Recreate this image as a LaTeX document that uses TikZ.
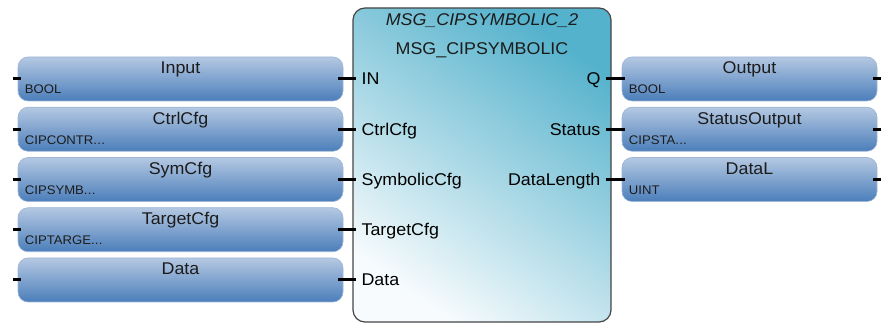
\documentclass[tikz,border=0pt]{standalone}
\usepackage{fontspec}
\setmainfont{Liberation Sans}[FakeStretch=1.05]
\usetikzlibrary{calc}
\definecolor{vtop}{HTML}{B4C8E2}
\definecolor{vbot}{HTML}{4B7EBA}
\definecolor{vedge}{HTML}{9DB5D6}
\definecolor{btop}{HTML}{55B2CC}
\definecolor{bbot}{HTML}{F7FBFD}
\definecolor{bedge}{HTML}{454545}
\definecolor{txt}{HTML}{1C1C1C}
\newcommand\tdots{.\kern0.3pt.\kern0.3pt.}
\tikzset{
  varbox/.style={rounded corners=10pt, top color=vtop, bottom color=vbot, draw=vedge, line width=0.6pt, minimum height=44pt, inner sep=0pt},
  lvar/.style={varbox, minimum width=325pt},
  rvar/.style={varbox, minimum width=255pt},
  fblock/.style={rounded corners=12pt, top color=btop, bottom color=bbot, shading angle=-35, draw=bedge, line width=1.2pt, minimum width=258pt, minimum height=314pt, inner sep=0pt},
  pinline/.style={line width=3pt, black},
  nm/.style={font=\fontsize{17}{17}\selectfont, text=txt, inner sep=0pt},
  ty/.style={font=\fontsize{12.5}{13}\selectfont, text=txt, inner sep=0pt},
  pl/.style={font=\fontsize{17}{17}\selectfont, text=black, inner sep=0pt},
}
\begin{document}
\begin{tikzpicture}[x=1pt,y=1pt]
\useasboundingbox (0,0) rectangle (881,326);
% function block
\node[fblock] (fb) at (482,161) {};
\node[nm, anchor=base, font=\fontsize{17}{17}\selectfont\itshape] (inst) at (482,300) {MSG\_CIPSYMBOLIC\_2};
\node[nm, anchor=base] (typ) at (482,271) {MSG\_CIPSYMBOLIC};
% left variables
\foreach \i/\nam/\typ/\pin [count=\k from 0] in {in1/Input/BOOL/IN, in2/CtrlCfg/CIPCONTR\tdots/CtrlCfg, in3/SymCfg/CIPSYMB\tdots/SymbolicCfg, in4/TargetCfg/CIPTARGE\tdots/TargetCfg, in5/Data//Data}{
  \pgfmathsetmacro{\yy}{247-50.25*\k}
  \node[lvar] (\i) at (180.5,\yy) {};
  \node[nm, anchor=base] (\i n) at ($(\i.center)+(0,5)$) {\nam};
  \node[ty, anchor=base west] (\i t) at ($(\i.west)+(7,-15)$) {\typ};
  \node[pl, anchor=base west] (\i p) at ($(fb.west |- \i.center)+(9,-6)$) {\pin};
  \draw[pinline] ([xshift=-5pt]\i.west) -- ([xshift=3pt]\i.west);
  \draw[pinline] ([xshift=-5pt]\i.east) -- ([xshift=4pt]fb.west |- \i.center);
}
% right variables
\foreach \i/\nam/\typ/\pin [count=\k from 0] in {out1/Output/BOOL/Q, out2/StatusOutput/CIPSTA\tdots/Status, out3/DataL/UINT/DataLength}{
  \pgfmathsetmacro{\yy}{247-50.25*\k}
  \node[rvar] (\i) at (749.5,\yy) {};
  \node[nm, anchor=base] (\i n) at ($(\i.center)+(0,5)$) {\nam};
  \node[ty, anchor=base west] (\i t) at ($(\i.west)+(7,-15)$) {\typ};
  \node[pl, anchor=base east] (\i p) at ($(fb.east |- \i.center)+(-11,-6)$) {\pin};
  \draw[pinline] ([xshift=-6pt]fb.east |- \i.center) -- ([xshift=3pt]\i.west);
  \coordinate (\i e) at ([xshift=4pt]\i.east);
  \draw[pinline] ([xshift=-4pt]\i.east) -- (\i e);
}
\end{tikzpicture}
\end{document}
